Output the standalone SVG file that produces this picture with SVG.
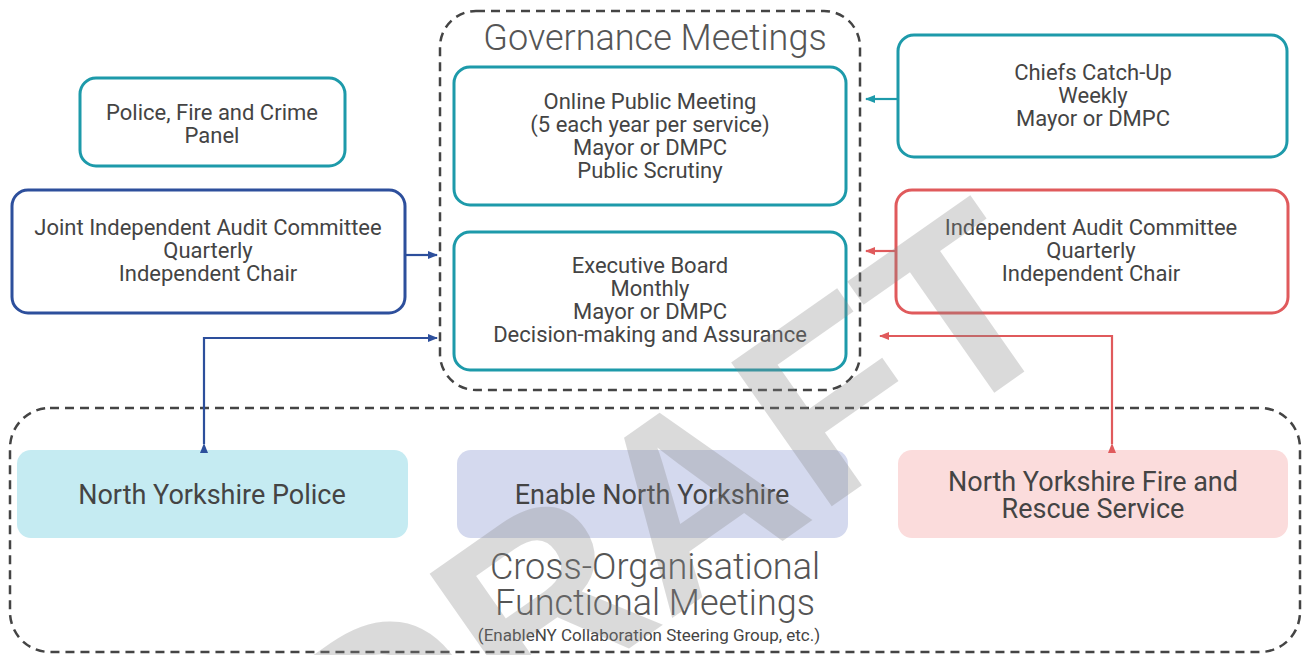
<svg xmlns="http://www.w3.org/2000/svg" width="1305" height="655" viewBox="0 0 1305 655">
<defs>
<style>
.t{font-family:Roboto,"Liberation Sans",sans-serif;fill:#444;text-anchor:middle}
.s{font-size:22px}
.big{font-size:27px}
.ttl{font-size:36px;font-weight:300;fill:#555}
.dash{fill:none;stroke:#444;stroke-width:2.5;stroke-dasharray:9 6}
.teal{fill:#fff;stroke:#1d9aaa;stroke-width:3}
.blue{fill:#fff;stroke:#2d4f9c;stroke-width:3}
.red{fill:#fff;stroke:#e05a5c;stroke-width:3}
.cb{fill:none;stroke:#2d4f9c;stroke-width:2.2}
.cr{fill:none;stroke:#e05a5c;stroke-width:2.2}
.ct{fill:none;stroke:#1d9aaa;stroke-width:2.2}
</style>
<marker id="ab" markerWidth="10" markerHeight="10" refX="9" refY="5" orient="auto" markerUnits="userSpaceOnUse"><path d="M0,1 L10,5 L0,9 Z" fill="#2d4f9c"/></marker>
<marker id="ar" markerWidth="10" markerHeight="10" refX="9" refY="5" orient="auto" markerUnits="userSpaceOnUse"><path d="M0,1 L10,5 L0,9 Z" fill="#e05a5c"/></marker>
<marker id="at" markerWidth="10" markerHeight="10" refX="9" refY="5" orient="auto" markerUnits="userSpaceOnUse"><path d="M0,1 L10,5 L0,9 Z" fill="#1d9aaa"/></marker>
</defs>
<rect width="1305" height="655" fill="#fff"/>

<g id="governance">
<rect class="dash" x="440" y="11" width="420" height="379" rx="36"/>
<text class="t ttl" x="655" y="50">Governance Meetings</text>
</g>

<g id="cross-org">
<rect class="dash" x="10" y="408" width="1290" height="244" rx="40"/>
<text class="t ttl" x="655" y="579">Cross-Organisational</text>
<text class="t ttl" x="655" y="615">Functional Meetings</text>
<text class="t" x="649" y="641" style="font-size:17px">(EnableNY Collaboration Steering Group, etc.)</text>
</g>

<g id="online-public-meeting">
<rect class="teal" x="454" y="67" width="392" height="138" rx="16"/>
<text class="t s" x="650" y="109">Online Public Meeting</text>
<text class="t s" x="650" y="132">(5 each year per service)</text>
<text class="t s" x="650" y="155">Mayor or DMPC</text>
<text class="t s" x="650" y="178">Public Scrutiny</text>
</g>

<g id="executive-board">
<rect class="teal" x="454" y="232" width="392" height="138" rx="16"/>
<text class="t s" x="650" y="273">Executive Board</text>
<text class="t s" x="650" y="296">Monthly</text>
<text class="t s" x="650" y="319">Mayor or DMPC</text>
<text class="t s" x="650" y="342">Decision-making and Assurance</text>
</g>

<g id="pfcp">
<rect class="teal" x="80" y="78" width="265" height="88" rx="16"/>
<text class="t s" x="212" y="120">Police, Fire and Crime</text>
<text class="t s" x="212" y="143">Panel</text>
</g>

<g id="jiac">
<rect class="blue" x="12" y="190" width="393" height="123" rx="16"/>
<text class="t s" x="208" y="235">Joint Independent Audit Committee</text>
<text class="t s" x="208" y="258">Quarterly</text>
<text class="t s" x="208" y="281">Independent Chair</text>
</g>

<g id="chiefs">
<rect class="teal" x="898" y="35" width="389" height="122" rx="16"/>
<text class="t s" x="1093" y="80">Chiefs Catch-Up</text>
<text class="t s" x="1093" y="103">Weekly</text>
<text class="t s" x="1093" y="126">Mayor or DMPC</text>
</g>

<g id="iac">
<rect class="red" x="896" y="190" width="392" height="123" rx="16"/>
<text class="t s" x="1091" y="235">Independent Audit Committee</text>
<text class="t s" x="1091" y="258">Quarterly</text>
<text class="t s" x="1091" y="281">Independent Chair</text>
</g>

<g id="nyp">
<rect x="17" y="450" width="391" height="88" rx="14" fill="#c5ebf2"/>
<text class="t big" x="212" y="504">North Yorkshire Police</text>
</g>

<g id="enable">
<rect x="457" y="450" width="391" height="88" rx="14" fill="#d4d9ee"/>
<text class="t big" x="652" y="504">Enable North Yorkshire</text>
</g>

<g id="nyfrs">
<rect x="898" y="450" width="390" height="88" rx="14" fill="#fbdcdc"/>
<text class="t big" x="1093" y="491">North Yorkshire Fire and</text>
<text class="t big" x="1093" y="518">Rescue Service</text>
</g>

<g id="connectors">
<path class="ct" d="M898,99 H866" marker-end="url(#at)"/>
<path class="cb" d="M405,255 H437" marker-end="url(#ab)"/>
<path class="cb" d="M204,444 V338 H437" marker-start="url(#ab)" marker-end="url(#ab)"/>
<path class="cr" d="M896,251 H866" marker-end="url(#ar)"/>
<path class="cr" d="M1112,444 V336 H880" marker-start="url(#ar)" marker-end="url(#ar)"/>
</g>

<g id="watermark">
<text x="0" y="0" transform="translate(668,512) rotate(-35)" style="font-family:'Liberation Sans',Arial,sans-serif;font-weight:bold;font-size:255px;fill:#888;opacity:0.3;text-anchor:middle" dy="0.35em">DRAFT</text>
</g>
</svg>
